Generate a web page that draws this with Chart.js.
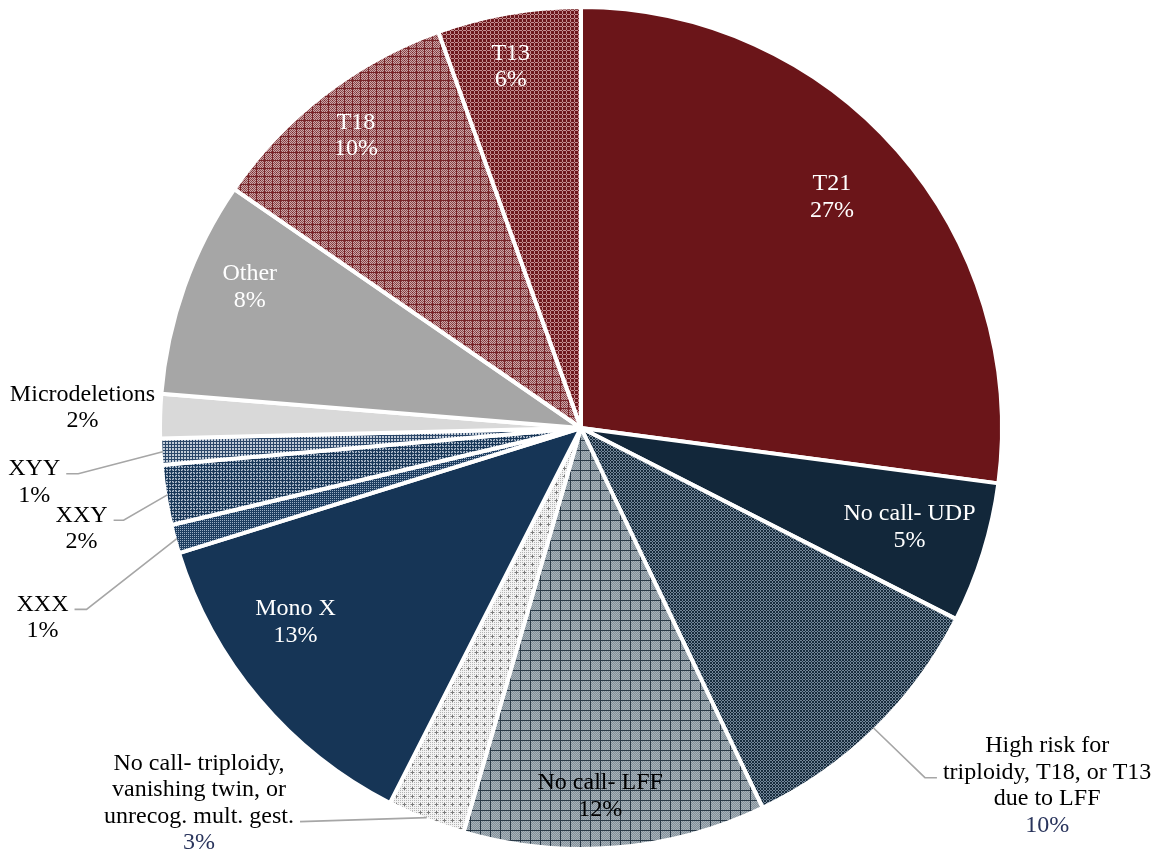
<!DOCTYPE html>
<html>
<head>
<meta charset="utf-8">
<script src="https://cdn.jsdelivr.net/npm/chart.js@4/dist/chart.umd.min.js"></script>
<style>
  html, body { margin: 0; padding: 0; background: #ffffff; }
  canvas { display: block; }
</style>
</head>
<body>
<canvas id="chart" width="1154" height="852"></canvas>
<script>
// Result categories, in clockwise order from 12 o'clock
const categories = [
  'T21',
  'No call- UDP',
  'High risk for triploidy, T18, or T13 due to LFF',
  'No call- LFF',
  'No call- triploidy, vanishing twin, or unrecog. mult. gest.',
  'Mono X',
  'XXX',
  'XXY',
  'XYY',
  'Microdeletions',
  'Other',
  'T18',
  'T13'
];

// Share of cases (percent)
const shares = [27.1, 5.4, 10.4, 11.6, 3.0, 12.7, 1.1, 2.3, 1.0, 1.7, 8.3, 9.9, 5.5];

// Text lines printed above each percentage
const labelLines = [
  ['T21'],
  ['No call- UDP'],
  ['High risk for', 'triploidy, T18, or T13', 'due to LFF'],
  ['No call- LFF'],
  ['No call- triploidy,', 'vanishing twin, or', 'unrecog. mult. gest.'],
  ['Mono X'],
  ['XXX'],
  ['XXY'],
  ['XYY'],
  ['Microdeletions'],
  ['Other'],
  ['T18'],
  ['T13']
];

// Label placement: radius factor, angular shift (deg) from slice middle, colours, leader line
const placements = [
  { r: 0.81,  shift: -1.4, color: '#ffffff', pct: '#ffffff' },
  { r: 0.815, shift: -0.5, color: '#ffffff', pct: '#ffffff' },
  { r: 1.396, shift: -8.2, color: '#000000', pct: '#29345c', leader: { line: 1, side: 'left', run: 12 } },
  { r: 0.876, shift: 1.7,  color: '#000000', pct: '#000000' },
  { r: 1.272, shift: 23.9, color: '#000000', pct: '#29345c', leader: { line: 2, side: 'right', run: 0 } },
  { r: 0.82,  shift: 5.9,  color: '#ffffff', pct: '#ffffff' },
  { r: 1.356, shift: -4.1, color: '#000000', pct: '#000000', leader: { line: 0, side: 'right', run: 12 } },
  { r: 1.21,  shift: -2.2, color: '#000000', pct: '#000000', leader: { line: 0, side: 'right', run: 10 } },
  { r: 1.305, shift: -2.4, color: '#000000', pct: '#000000', leader: { line: 0, side: 'right', run: 12 } },
  { r: 1.185, shift: 0.7,  color: '#000000', pct: '#000000' },
  { r: 0.855, shift: 3.4,  color: '#ffffff', pct: '#ffffff' },
  { r: 0.876, shift: 0,    color: '#ffffff', pct: '#ffffff' },
  { r: 0.874, shift: -1.1, color: '#ffffff', pct: '#ffffff' }
];

const canvas = document.getElementById('chart');
const ctx = canvas.getContext('2d');

// Build a repeating tile fill from a per-pixel colour function
function tile(size, colorAt) {
  const c = document.createElement('canvas');
  c.width = size; c.height = size;
  const g = c.getContext('2d');
  for (let y = 0; y < size; y++) {
    for (let x = 0; x < size; x++) {
      g.fillStyle = colorAt(x, y);
      g.fillRect(x, y, 1, 1);
    }
  }
  return ctx.createPattern(c, 'repeat');
}

const fills = [
  '#6b1519',
  '#12273a',
  // dark navy plaid
  tile(6, (x, y) => ((x % 3 === 1) !== (y % 3 === 1)) ? '#73879a' : ((x === 4 && y === 4) ? '#0a1622' : '#182c3d')),
  // slate grid
  tile(10, (x, y) => (x === 0 || y === 0) ? '#283846' : (((x + y) % 2 === 0) ? '#a7b2b9' : '#83909a')),
  // fine grey dots
  tile(8, (x, y) => {
    if ((x === 4 && y >= 3 && y <= 5) || (y === 4 && x >= 3 && x <= 5)) return '#7a7a7a';
    return (x % 2 === 0 && y % 2 === 0) ? '#b4b4b4' : '#f3f3f3';
  }),
  '#163556',
  // navy with light dots
  tile(2, (x, y) => (x === 0 && y === 0) ? '#9aaec4' : '#1d3d60'),
  // navy plaid
  tile(6, (x, y) => (x % 3 === 0 || y % 3 === 0) ? '#163556' : (((x + y) % 2 === 0) ? '#6d819a' : '#b9c5d3')),
  // lighter navy grid
  tile(3, (x, y) => (x === 0 || y === 0) ? '#2a4668' : '#c2ccd8'),
  '#d9d9d9',
  '#a6a6a6',
  // rose lattice
  tile(8, (x, y) => {
    if (x === 0 || y === 0) return '#772328';
    if (x === 4 && y === 4) return '#772328';
    return ((x + y) % 2 === 0) ? '#8c454a' : '#cba7a9';
  }),
  // dense red weave
  tile(4, (x, y) => ((x === 2 || y === 2) && !(x === 2 && y === 2)) ? '#c48e91' : '#6d181d')
];

const FONT = '24px "Liberation Serif", "Times New Roman", Times, serif';
const LINE_H = 26.5;

const sliceLabels = {
  id: 'sliceLabels',
  afterDatasetsDraw(chart) {
    const g = chart.ctx;
    const meta = chart.getDatasetMeta(0);
    const values = chart.data.datasets[0].data;
    const total = values.reduce((a, b) => a + b, 0);
    g.save();
    g.font = FONT;
    g.textAlign = 'center';
    g.textBaseline = 'middle';
    meta.data.forEach((arc, i) => {
      const p = placements[i];
      const R = arc.outerRadius;
      const midA = (arc.startAngle + arc.endAngle) / 2;
      const a = midA + p.shift * Math.PI / 180;
      const cx = arc.x + R * p.r * Math.cos(a);
      const cy = arc.y + R * p.r * Math.sin(a);
      const lines = labelLines[i].concat([Math.round(values[i] / total * 100) + '%']);
      const top = cy - (lines.length - 1) * LINE_H / 2;

      if (p.leader) {
        const k = p.leader.line;
        const w = g.measureText(lines[k]).width;
        const ly = top + k * LINE_H + 5;
        const dir = p.leader.side === 'right' ? 1 : -1;
        const x0 = cx + dir * (w / 2 + 6);
        const x1 = x0 + dir * p.leader.run;
        const ex = arc.x + (R - 2) * Math.cos(midA);
        const ey = arc.y + (R - 2) * Math.sin(midA);
        g.strokeStyle = '#a6a6a6';
        g.lineWidth = 1.6;
        g.beginPath();
        g.moveTo(x0, ly);
        g.lineTo(x1, ly);
        g.lineTo(ex, ey);
        g.stroke();
      }

      lines.forEach((t, j) => {
        g.fillStyle = j === lines.length - 1 ? p.pct : p.color;
        g.fillText(t, cx, top + j * LINE_H);
      });
    });
    g.restore();
  }
};

new Chart(ctx, {
  type: 'pie',
  data: {
    labels: categories,
    datasets: [{
      data: shares,
      backgroundColor: fills,
      borderColor: '#ffffff',
      borderWidth: 4
    }]
  },
  options: {
    responsive: false,
    animation: false,
    devicePixelRatio: 1,
    layout: { padding: { top: 5, bottom: 1, left: 158, right: 150 } },
    plugins: {
      legend: { display: false },
      tooltip: { enabled: false }
    }
  },
  plugins: [sliceLabels]
});
</script>
</body>
</html>
